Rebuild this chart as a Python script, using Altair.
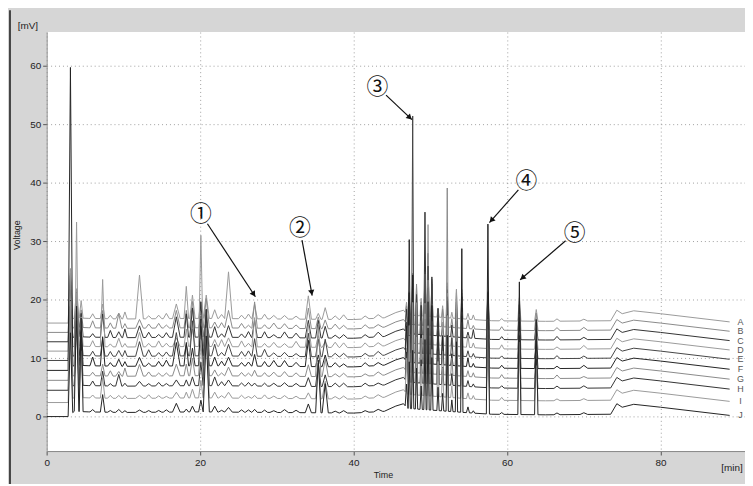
import math
import altair as alt
import numpy as np
import pandas as pd

# ---------------- data ----------------
TRACES = ["A", "B", "C", "D", "E", "F", "G", "H", "I", "J"]
TRACE_OFFSET = [16.6, 15.0, 13.4, 11.8, 10.2, 8.5, 6.8, 5.1, 3.0, 0.6]   # mV stacking offset
TRACE_COLOR = ["#9a9a9a", "#8a8a8a", "#333333", "#9a9a9a", "#444444",
               "#222222", "#8a8a8a", "#333333", "#9a9a9a", "#222222"]

# common baseline drift (min, mV relative to offset)
DRIFT_T = [0, 2.8, 3.6, 5.5, 10, 20, 30, 40, 44, 45.5, 46.5, 47.0, 55.5, 58, 65, 73.5, 74.3, 75.0, 76.5, 80, 89]
DRIFT_V = [-0.6, -0.6, 0.3, 0.2, 0.1, 0.2, 0.1, 0.0, 0.3, 1.2, 1.6, 0.8, 0.0, -0.2, -0.3, -0.2, 1.6, 1.0, 1.5, 1.0, -0.4]

# peaks: retention time (min), half width (min), heights above baseline for A..J (mV)
PEAK_T = [3.1, 3.9, 4.5, 6.0, 7.3, 8.3, 9.4, 10.2, 12.1, 13.3, 14.6, 15.6, 16.9, 18.2, 19.0,
          20.1, 20.8, 21.9, 22.8, 23.7, 25.4, 26.3, 27.1, 28.4, 29.6, 31.0, 32.5, 34.1, 35.4,
          36.3, 37.6, 38.7, 41.5, 43.2, 46.9, 47.25, 47.7, 48.2, 48.8, 49.3, 49.7, 50.2, 51.0,
          51.6, 52.2, 52.8, 53.4, 54.1, 54.9, 55.6, 57.5, 59.3, 61.6, 63.8, 66.5, 70.0]
PEAK_W = [0.30, 0.30, 0.25, 0.35, 0.30, 0.35, 0.40, 0.30, 0.50, 0.40, 0.40, 0.40, 0.50, 0.30, 0.35,
          0.30, 0.40, 0.40, 0.40, 0.50, 0.40, 0.40, 0.35, 0.40, 0.50, 0.50, 0.50, 0.40, 0.35,
          0.40, 0.50, 0.50, 0.50, 0.60, 0.18, 0.15, 0.15, 0.15, 0.15, 0.15, 0.15, 0.15, 0.15,
          0.15, 0.15, 0.15, 0.15, 0.15, 0.20, 0.20, 0.20, 0.30, 0.20, 0.22, 0.40, 0.50]
PEAK_H = [
    [9, 7, 11, 13, 10, 51.5, 12, 14, 17, 14],
    [5, 6, 7, 9, 8, 10, 12, 11, 30, 18],
    [3, 3, 4, 5, 4, 6, 5, 7, 8, 16],
    [0.8, 1.2, 0.6, 1.0, 0.8, 1.5, 0.6, 0.8, 0.5, 0.4],
    [2.5, 3, 4, 11.5, 3, 5, 2, 2.5, 3.5, 3],
    [0.6, 0.9, 1.2, 0.5, 0.8, 0.6, 0.9, 0.4, 0.5, 0.3],
    [1, 2.5, 1, 1.5, 1, 1.2, 0.8, 2, 0.5, 0.5],
    [1.2, 0.8, 1.5, 0.6, 1.0, 0.8, 1.4, 0.5, 0.5, 0.3],
    [7.5, 1.5, 2, 2.5, 2.5, 1.5, 2, 0.8, 0.5, 0.4],
    [0.5, 0.7, 0.9, 0.6, 1.1, 0.5, 0.7, 0.4, 0.6, 0.3],
    [0.6, 0.8, 0.5, 1.0, 0.6, 0.8, 0.5, 0.6, 0.4, 0.3],
    [0.9, 0.5, 0.8, 0.6, 0.7, 1.0, 0.5, 0.4, 0.3, 0.4],
    [2.5, 3, 3.5, 1.5, 4, 4, 2, 1, 1, 1.5],
    [5.5, 3, 4, 3, 2, 4, 2, 1, 1, 0.5],
    [4, 4.5, 5, 3, 6, 3, 3, 1.5, 1.5, 1],
    [3, 2, 6, 19, 5, 8, 6, 4, 3, 2],
    [4, 5, 3, 6, 8, 6, 9, 13, 12, 13],
    [1.5, 1, 1.8, 1.2, 2, 1.5, 1, 1.5, 1, 1],
    [0.7, 0.9, 0.6, 1.2, 0.6, 0.8, 0.5, 0.7, 0.4, 0.3],
    [8, 3, 2, 1.5, 2, 1.5, 1.5, 1, 1, 0.8],
    [0.6, 0.8, 0.6, 1.0, 0.8, 0.6, 0.6, 0.5, 0.5, 0.4],
    [0.8, 0.5, 1.0, 0.6, 0.9, 0.7, 0.5, 0.6, 0.3, 0.4],
    [2.5, 4.5, 3, 5, 3, 2, 1, 0.5, 0.5, 0.5],
    [0.8, 0.6, 1, 0.6, 1.2, 0.8, 0.6, 0.5, 0.6, 0.4],
    [0.6, 0.9, 0.5, 0.8, 0.6, 1.0, 0.7, 0.5, 0.4, 0.3],
    [0.6, 0.8, 1, 0.6, 0.7, 1, 0.8, 0.6, 0.5, 0.5],
    [0.5, 0.6, 0.8, 1.0, 0.5, 0.7, 0.6, 0.5, 0.4, 0.4],
    [4, 3.5, 3, 4, 4, 4.5, 2, 1.5, 1, 1.5],
    [1, 2, 3, 2, 3, 2, 9, 4, 6, 9],
    [2, 1.5, 2, 1, 3, 2, 3, 2, 3, 5],
    [0.6, 0.8, 0.5, 0.9, 0.6, 0.7, 0.5, 0.6, 0.4, 0.3],
    [0.8, 0.6, 0.6, 0.8, 0.6, 0.5, 0.6, 0.6, 0.5, 0.4],
    [0.5, 0.6, 0.5, 0.7, 0.5, 0.6, 0.4, 0.5, 0.4, 0.3],
    [0.6, 0.5, 0.8, 0.6, 0.7, 0.5, 0.6, 0.4, 0.5, 0.4],
    [2, 3, 4, 3, 5, 6, 4, 5, 6, 4],
    [4, 5, 7, 6, 9, 21, 8, 8, 10, 8],
    [6, 8, 10, 12, 40.5, 15, 12, 10, 12, 10],
    [5, 7, 6, 8, 10, 9, 12, 8, 10, 7],
    [3, 4, 5, 4, 6, 5, 6, 4, 5, 4],
    [8, 10, 21, 12, 14, 10, 12, 11, 14, 12],
    [10, 12, 14, 20.5, 15, 13, 16, 14, 12, 14],
    [6, 8, 10, 7, 12, 10, 9, 11, 8, 9],
    [1.5, 2, 3, 3, 4, 5, 4, 13, 6, 4],
    [2, 3, 2, 4, 3, 5, 4, 3, 5, 3],
    [6, 7, 8, 9, 10, 11, 32, 12, 14, 13],
    [1, 1.5, 2, 2, 3, 2, 3, 2, 2, 2],
    [5, 6, 6, 7, 8, 9, 10, 11, 18.5, 12],
    [5, 6, 7, 8, 9, 10, 11, 12, 13, 28],
    [1, 1.5, 1, 2, 1, 1.5, 1, 1, 1, 1],
    [0.8, 0.6, 1.5, 0.8, 0.6, 0.6, 0.7, 0.5, 0.6, 0.4],
    [5, 6, 8, 7, 9, 8, 10, 9, 12, 32.5],
    [0.4, 0.6, 0.5, 0.7, 0.4, 0.5, 0.6, 0.4, 0.5, 0.3],
    [4, 5, 6, 6, 7, 8, 8, 9, 10, 22.7],
    [2, 3, 3, 4, 3, 5, 4, 5, 6, 16.3],
    [0.4, 0.5, 0.6, 0.4, 0.5, 0.4, 0.6, 0.4, 0.3, 0.3],
    [0.3, 0.5, 0.4, 0.6, 0.4, 0.5, 0.3, 0.4, 0.3, 0.3],
]

# numbered annotations (label position and arrow tip, data units)
ANN_LABEL = ["①", "②", "③", "④", "⑤"]
ANN_T = [20.1, 33.0, 43.1, 62.5, 68.8]
ANN_V = [34.7, 32.2, 56.4, 40.3, 31.4]
TIP_T = [27.2, 34.6, 47.6, 57.7, 61.7]
TIP_V = [20.5, 20.7, 50.8, 33.2, 23.4]

X_DOMAIN = [0, 91]
Y_DOMAIN = [-5.9, 65.8]
X_TICKS = [0, 20, 40, 60, 80]
Y_TICKS = [0, 10, 20, 30, 40, 50, 60]

W, H = 705, 423
PX_T = W / (X_DOMAIN[1] - X_DOMAIN[0])
PX_V = H / (Y_DOMAIN[1] - Y_DOMAIN[0])

# ---------------- build line table ----------------
rows = []
spans = [(t - w, t + w) for t, w in zip(PEAK_T, PEAK_W)]
for k, name in enumerate(TRACES):
    off = TRACE_OFFSET[k]
    pts = []
    for t, v in zip(DRIFT_T, DRIFT_V):
        if not any(a < t < b for a, b in spans):
            pts.append((t, off + v))
    for t, w, hs in zip(PEAK_T, PEAK_W, PEAK_H):
        for tt, extra in ((t - w, 0.0), (t, hs[k]), (t + w, 0.0)):
            pts.append((tt, off + float(np.interp(tt, DRIFT_T, DRIFT_V)) + extra))
    pts.sort()
    for i, (t, v) in enumerate(pts):
        rows.append({"trace": name, "t": t, "mv": v, "i": i})
lines_df = pd.DataFrame(rows)

end_df = lines_df.sort_values("t").groupby("trace", as_index=False).last()

ann_rows = []
for lab, t, v, tt, tv in zip(ANN_LABEL, ANN_T, ANN_V, TIP_T, TIP_V):
    dxp = (tt - t) * PX_T
    dyp = -(tv - v) * PX_V
    L = math.hypot(dxp, dyp)
    ux, uy = dxp / L, dyp / L
    ann_rows.append({
        "label": lab, "t": t, "v": v,
        "t0": t + 12 * ux / PX_T, "v0": v - 12 * uy / PX_V,
        "t1": tt, "v1": tv,
        "th": tt - 3 * ux / PX_T, "vh": tv + 3 * uy / PX_V,
        "ang": math.degrees(math.atan2(ux, -uy)) % 360,
    })
ann_df = pd.DataFrame(ann_rows)

xs = alt.Scale(domain=X_DOMAIN, nice=False, zero=False)
ys = alt.Scale(domain=Y_DOMAIN, nice=False, zero=False)

axis_common = dict(labelFont="Liberation Sans", labelFontSize=10, labelColor="#222",
                   tickColor="#555", tickSize=4, domainColor="#888",
                   gridColor="#888", gridDash=[1, 3], gridOpacity=0.8, title=None)

lines = alt.Chart(lines_df).mark_line(strokeWidth=1, clip=True).encode(
    x=alt.X("t:Q", scale=xs, axis=alt.Axis(values=X_TICKS, labelFlush=False, labelPadding=3, **axis_common)),
    y=alt.Y("mv:Q", scale=ys, axis=alt.Axis(values=Y_TICKS, labelPadding=2, **axis_common)),
    color=alt.Color("trace:N", scale=alt.Scale(domain=TRACES, range=TRACE_COLOR), legend=None),
    detail="trace:N",
    order="i:Q",
)

letters = alt.Chart(end_df).mark_text(dx=11, font="Liberation Sans", fontSize=9, color="#555").encode(
    x=alt.X("t:Q", scale=xs), y=alt.Y("mv:Q", scale=ys), text="trace:N")

circ = alt.Chart(ann_df).mark_text(font="Noto Sans CJK JP", fontSize=22, color="#111", baseline="middle").encode(
    x=alt.X("t:Q", scale=xs), y=alt.Y("v:Q", scale=ys), text="label:N")

arrows = alt.Chart(ann_df).mark_rule(color="#111", strokeWidth=1.2).encode(
    x=alt.X("t0:Q", scale=xs), y=alt.Y("v0:Q", scale=ys), x2="t1:Q", y2="v1:Q")

heads = alt.Chart(ann_df).mark_point(shape="triangle-up", filled=True, color="#111", size=40, opacity=1).encode(
    x=alt.X("th:Q", scale=xs), y=alt.Y("vh:Q", scale=ys), angle=alt.Angle("ang:Q", scale=None))

txt_df = pd.DataFrame({"k": [0]})
def label(text, x, y, **kw):
    return alt.Chart(txt_df).mark_text(text=text, font="Liberation Sans", color="#222", **kw).encode(
        x=alt.value(x), y=alt.value(y))

t_mv = label("[mV]", -19, -6, fontSize=10)
t_volt = label("Voltage", -30, 205, fontSize=9, angle=270)
t_time = label("Time", 340, 447, fontSize=9)
t_min = label("[min]", 681, 440, fontSize=10, align="left")

frame = alt.Chart(txt_df).mark_rule(color="#444", strokeWidth=2).encode(
    x=alt.value(-37), y=alt.value(-22), y2=alt.value(460))

chart = alt.layer(lines, letters, arrows, heads, circ, t_mv, t_volt, t_time, t_min, frame).properties(
    width=W, height=H,
    autosize=alt.AutoSizeParams(type="none"),
    padding={"left": 39, "top": 22, "right": 0, "bottom": 31},
    background="#d6d6d6",
).configure_view(fill="white", stroke=None)

chart.save("out.html", embed_options={"renderer": "svg", "actions": False})
